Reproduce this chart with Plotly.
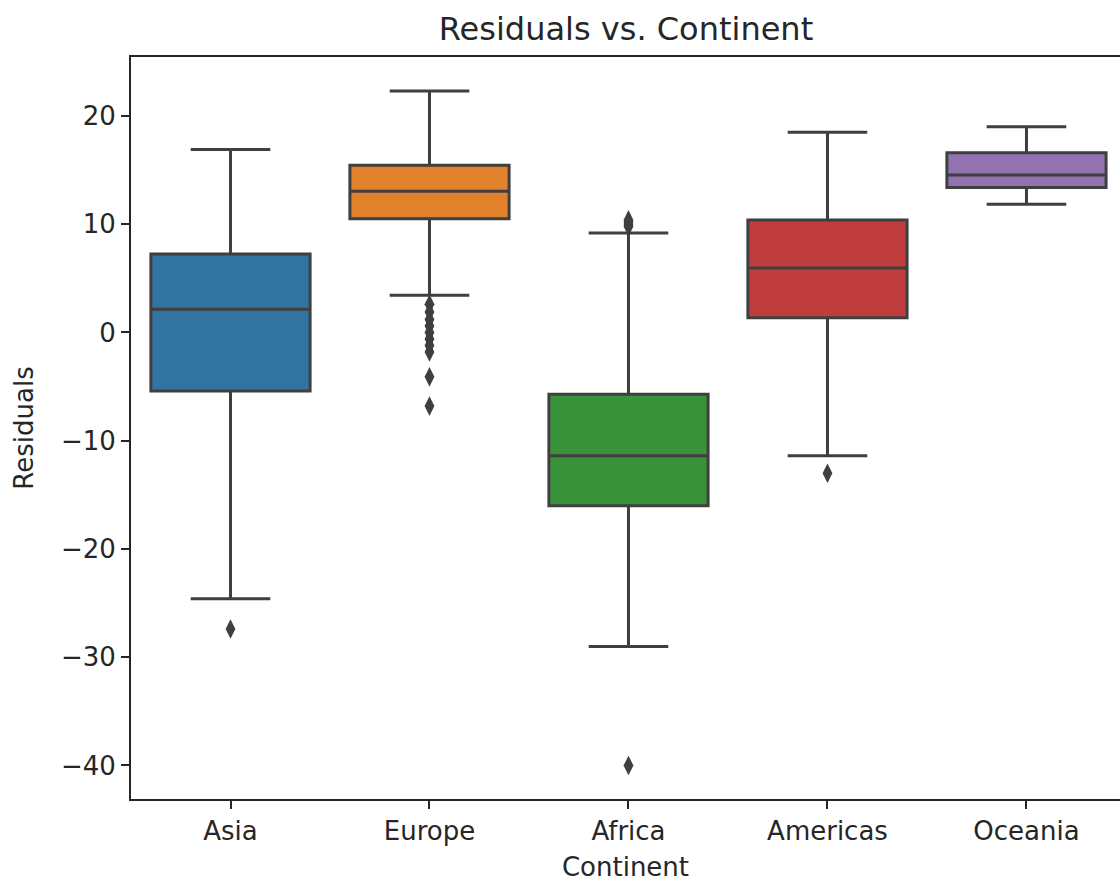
import plotly.graph_objects as go

continents = ["Asia", "Europe", "Africa", "Americas", "Oceania"]
colors = ["#3274a1", "#e1812c", "#3a923a", "#c03d3e", "#9372b2"]
lower_fence = [-24.6, 3.45, -29.0, -11.4, 11.85]
q1 = [-5.4, 10.5, -16.0, 1.35, 13.4]
median = [2.15, 13.05, -11.4, 5.95, 14.55]
q3 = [7.25, 15.45, -5.7, 10.4, 16.6]
upper_fence = [16.9, 22.3, 9.2, 18.5, 19.0]
outliers = {
    "Asia": [-27.4],
    "Europe": [2.6, 1.9, 1.2, 0.6, 0.0, -0.6, -1.2, -1.8, -4.1, -6.8],
    "Africa": [9.8, 10.0, 10.2, 10.4, -40.0],
    "Americas": [-13.0],
    "Oceania": [],
}

fig = go.Figure()
for i, c in enumerate(continents):
    fig.add_trace(go.Box(
        x=[c], q1=[q1[i]], median=[median[i]], q3=[q3[i]],
        lowerfence=[lower_fence[i]], upperfence=[upper_fence[i]],
        fillcolor=colors[i], line=dict(color="#3f3f3f", width=3),
        width=0.8, whiskerwidth=0.5, boxpoints=False, showlegend=False,
        hoverinfo="skip",
    ))
    if outliers[c]:
        fig.add_trace(go.Scatter(
            x=[c] * len(outliers[c]), y=outliers[c], mode="markers",
            marker=dict(symbol="diamond-tall", size=14, color="#3f3f3f"),
            showlegend=False,
        ))

font = "DejaVu Sans, Arial, sans-serif"
fig.update_layout(
    width=1120, height=882,
    margin=dict(l=131, r=0, t=57, b=83),
    plot_bgcolor="white", paper_bgcolor="white",
    font=dict(family=font, size=26, color="#262626"),
    title=dict(text="Residuals vs. Continent", x=626/1120, xref="container", xanchor="center",
               y=1 - 29/882, yref="container", yanchor="middle", font=dict(size=32, color="#262626")),
    xaxis=dict(type="category", categoryorder="array", categoryarray=continents,
               range=[-0.5, 4.47], showline=True, linecolor="#262626", linewidth=1.9,
               mirror=True, ticks="outside", ticklen=8, tickwidth=1.9, tickcolor="#262626",
               showgrid=False, zeroline=False,
               title=dict(text="Continent", standoff=14, font=dict(size=26)),
               tickfont=dict(size=26)),
    yaxis=dict(range=[-43.1, 25.45], showline=True, linecolor="#262626", linewidth=1.9,
               ticks="outside", ticklen=8, tickwidth=1.9, tickcolor="#262626",
               tickvals=[-40, -30, -20, -10, 0, 10, 20],
               ticktext=["−40", "−30", "−20", "−10", "0", "10", "20"],
               showgrid=False, zeroline=False,
               title=dict(text="Residuals", standoff=20, font=dict(size=26)),
               tickfont=dict(size=26)),
)

fig.write_html("out.html")
